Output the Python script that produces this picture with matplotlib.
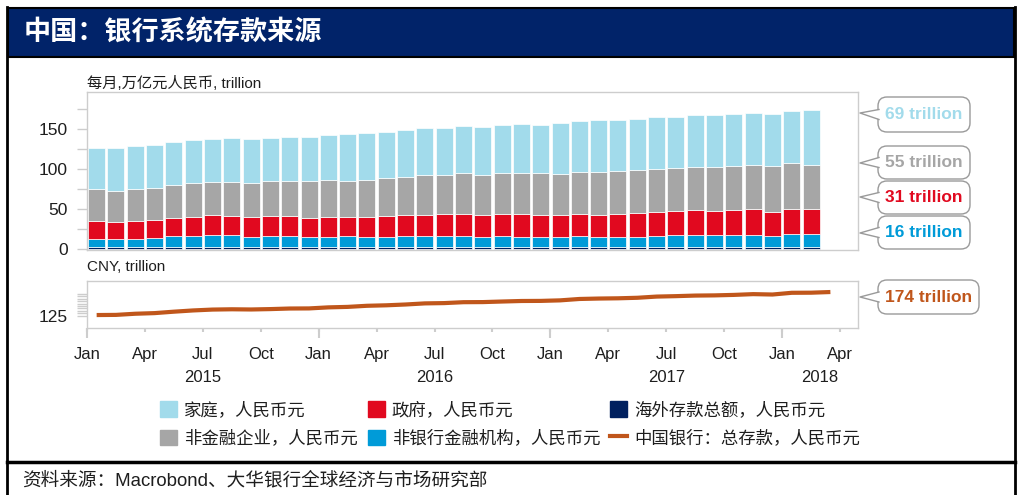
"""
China: sources of banking-system deposits (stacked bars + total deposits line).
"""

import matplotlib.pyplot as plt
import numpy as np
from matplotlib.lines import Line2D
from matplotlib.patches import FancyBboxPatch, Patch, Polygon, Rectangle
from matplotlib.transforms import IdentityTransform, blended_transform_factory

plt.rcParams["font.family"] = ["Liberation Sans", "Noto Sans CJK SC"]

# monthly, Jan 2015 - Feb 2018, CNY trillion
foreign = [2.4, 2.4, 2.4, 2.5, 2.5, 2.5, 2.6, 2.6, 2.5, 2.5, 2.5, 2.5,
           2.5, 2.5, 2.5, 2.5, 2.5, 2.5, 2.6, 2.6, 2.5, 2.5, 2.5, 2.5,
           2.6, 2.6, 2.6, 2.6, 2.7, 2.7, 2.7, 2.7, 2.7, 2.7, 2.7, 2.7,
           2.8, 2.8]
nonbank = [10.1, 10.1, 10.1, 11.7, 13.8, 13.8, 14.9, 14.9, 12.9, 13.3, 13.3, 12.5,
           12.5, 13.3, 12.5, 12.9, 13.8, 13.8, 13.7, 13.7, 12.5, 13.3, 12.9, 12.5,
           12.4, 13.7, 12.8, 12.8, 12.7, 13.6, 14.4, 14.4, 14.4, 14.4, 14.4, 14.0,
           15.5, 16.0]
government = [22.5, 21.7, 22.5, 22.5, 23.0, 23.8, 24.5, 24.2, 25.0, 25.5, 25.9, 24.2,
              24.6, 24.2, 24.6, 25.9, 26.3, 26.3, 28.0, 28.0, 27.5, 28.4, 28.4, 27.1,
              27.1, 28.0, 27.1, 28.8, 29.6, 29.6, 30.4, 31.2, 30.4, 32.1, 32.9, 30.0,
              31.7, 30.6]
corporate = [40.4, 38.7, 40.0, 40.0, 41.2, 42.0, 42.2, 42.5, 42.5, 43.0, 43.7, 45.8,
             46.2, 44.6, 47.1, 47.1, 47.9, 49.2, 47.9, 50.0, 50.4, 50.4, 51.7, 52.9,
             51.2, 52.1, 53.8, 53.3, 53.8, 54.2, 54.2, 54.6, 54.5, 55.0, 55.4, 57.5,
             57.0, 55.0]
household = [50.9, 53.4, 53.8, 53.3, 52.5, 53.8, 53.3, 53.8, 54.6, 54.1, 54.2, 54.6,
             56.2, 58.4, 58.7, 58.0, 57.5, 58.7, 58.7, 58.7, 60.0, 59.6, 60.0, 60.4,
             63.4, 63.4, 64.2, 63.3, 63.3, 64.6, 63.7, 63.8, 65.0, 63.8, 64.2, 64.6,
             65.5, 68.6]

# monthly, Jan 2015 - Mar 2018
total_deposits = [126, 126.3, 128.7, 130, 133, 135.6, 137.4, 138, 137.6, 138.4, 139.6, 139.8,
                  142, 143, 145.3, 146.3, 148, 150.3, 150.9, 152.8, 153, 154.2, 155.3, 155.5,
                  156.6, 159.5, 160.4, 160.9, 162, 164.5, 165.4, 166.6, 167, 168, 169.6, 168.8,
                  172.4, 172.6, 174]

month_labels = ["Jan", "Apr", "Jul", "Oct"]
years = ["2015", "2016", "2017", "2018"]

C_HOUSE = "#a2dbeb"
C_CORP = "#a6a6a6"
C_GOV = "#e1091f"
C_NONBANK = "#009bd8"
C_FOREIGN = "#00205f"
C_LINE = "#c0561b"
C_TEXT = "#1e1e1e"
C_GRID = "#cdcdcd"

W, H = 1022, 495


def fx(x):
    return x / W


def fy(y):
    return 1 - y / H


fig = plt.figure(figsize=(W / 100, H / 100), dpi=100)
px = IdentityTransform()

# frame + header
fig.add_artist(Rectangle((8, H - 57), 1006, 49, transform=px, facecolor="#012369",
                         edgecolor="black", linewidth=1.5))
fig.add_artist(Line2D([7, 7], [0, H - 7], transform=px, color="black", lw=2))
fig.add_artist(Line2D([1015, 1015], [0, H - 7], transform=px, color="black", lw=2))
fig.add_artist(Line2D([7, 1015], [H - 462, H - 462], transform=px, color="black", lw=2.5))
fig.text(fx(24), fy(33), "中国：银行系统存款来源", color="white", fontsize=19.5,
         fontweight="bold", va="center", ha="left")

ax1 = fig.add_axes([fx(87), fy(250), (858 - 87) / W, (250 - 92) / H])
ax2 = fig.add_axes([fx(87), fy(327.5), (858 - 87) / W, (327.5 - 281) / H])

# stacked bars
x = np.arange(len(foreign)) + 0.5
bottom = np.zeros(len(foreign))
for vals, color in [(foreign, C_FOREIGN), (nonbank, C_NONBANK), (government, C_GOV),
                    (corporate, C_CORP), (household, C_HOUSE)]:
    ax1.bar(x, vals, bottom=bottom, width=0.88, color=color, edgecolor="white", linewidth=0.5)
    bottom += np.array(vals)

ax1.set_xlim(0, 39.93)
ax1.set_ylim(-1.2, 196)
ax1.set_yticks([0, 50, 100, 150])
ax1.set_yticks([25, 75, 125, 175], minor=True)
ax1.tick_params(axis="y", which="both", direction="out", length=7, width=1, color=C_GRID,
                labelsize=12.5, labelcolor=C_TEXT, pad=7)
ax1.tick_params(axis="x", which="both", length=0, labelbottom=False)

# total deposits line
x2 = np.arange(len(total_deposits)) + 0.5
ax2.plot(x2, total_deposits, color=C_LINE, lw=3, solid_capstyle="butt")
ax2.set_xlim(0, 39.93)
ax2.set_ylim(100, 197)
ax2.set_yticks([125])
ax2.set_yticks(np.arange(130, 171, 5), minor=True)
ax2.tick_params(axis="y", which="both", direction="out", length=7, width=1, color=C_GRID,
                labelsize=12.5, labelcolor=C_TEXT, pad=7)

ax2.xaxis.remove_overlapping_locs = False
quarters = np.arange(0, 40, 3)
ax2.set_xticks(quarters)
ax2.set_xticklabels([month_labels[i % 4] for i in range(len(quarters))])
ax2.set_xticks([0, 12, 24, 36], minor=True)
ax2.tick_params(axis="x", which="major", direction="out", length=3, width=1.5, color=C_GRID,
                labelsize=12, labelcolor=C_TEXT, pad=11)
ax2.tick_params(axis="x", which="minor", direction="out", length=7, width=1.5, color=C_GRID)

trans = blended_transform_factory(ax2.transData, ax2.transAxes)
for pos, yr in zip([6, 18, 30, 37.97], years):
    ax2.text(pos, -1.07, yr, transform=trans, ha="center", va="center", fontsize=12, color=C_TEXT)

for ax in (ax1, ax2):
    for sp in ax.spines.values():
        sp.set_color(C_GRID)
        sp.set_linewidth(1)

fig.text(fx(87), fy(83), "每月,万亿元人民币, trillion", fontsize=11, color=C_TEXT, va="center")
fig.text(fx(87), fy(267), "CNY, trillion", fontsize=11, color=C_TEXT, va="center")

# callouts with latest values
callouts = [
    (f"{household[-1]:.0f} trillion", C_HOUSE, 97, 132, 970, 113),
    (f"{corporate[-1]:.0f} trillion", C_CORP, 146, 179, 970, 163),
    (f"{government[-1]:.0f} trillion", C_GOV, 181, 214, 970, 197),
    (f"{nonbank[-1]:.0f} trillion", C_NONBANK, 216, 249, 970, 233),
    (f"{total_deposits[-1]:.0f} trillion", C_LINE, 280, 314, 979, 297),
]
for label, color, top, bot, right, tip in callouts:
    left = 878
    box = FancyBboxPatch((left, H - bot), right - left, bot - top, transform=px,
                         boxstyle="round,pad=0,rounding_size=9", facecolor="white",
                         edgecolor="#9a9a9a", linewidth=1)
    fig.add_artist(box)
    yc = (top + bot) / 2
    fig.add_artist(Polygon([(left + 2, H - yc + 5), (860, H - tip), (left + 2, H - yc - 5)],
                           closed=True, transform=px, facecolor="white", edgecolor="none"))
    fig.add_artist(Line2D([left + 1, 860, left + 1], [H - yc + 5, H - tip, H - yc - 5],
                          transform=px, color="#9a9a9a", lw=1))
    fig.text((left + right) / 2 / W, fy(yc), label, color=color, fontsize=12.5,
             fontweight="bold", ha="center", va="center")

# legend
handles = [
    Patch(color=C_HOUSE), Patch(color=C_CORP),
    Patch(color=C_GOV), Patch(color=C_NONBANK),
    Patch(color=C_FOREIGN), Line2D([], [], color=C_LINE, lw=3),
]
labels = [
    "家庭，人民币元", "非金融企业，人民币元",
    "政府，人民币元", "非银行金融机构，人民币元",
    "海外存款总额，人民币元", "中国银行：总存款，人民币元",
]
fig.legend(handles, labels, ncol=3, loc="upper left", bbox_to_anchor=(fx(160), fy(401)),
           frameon=False, fontsize=12.5, handlelength=1.0, handleheight=1.0,
           handletextpad=0.4, columnspacing=0.55, borderpad=0, borderaxespad=0,
           labelspacing=0.66, labelcolor=C_TEXT)

fig.text(fx(22), fy(481), "资料来源：Macrobond、大华银行全球经济与市场研究部", fontsize=13.4,
         color=C_TEXT, va="center")

plt.savefig("out.png", dpi=100)
